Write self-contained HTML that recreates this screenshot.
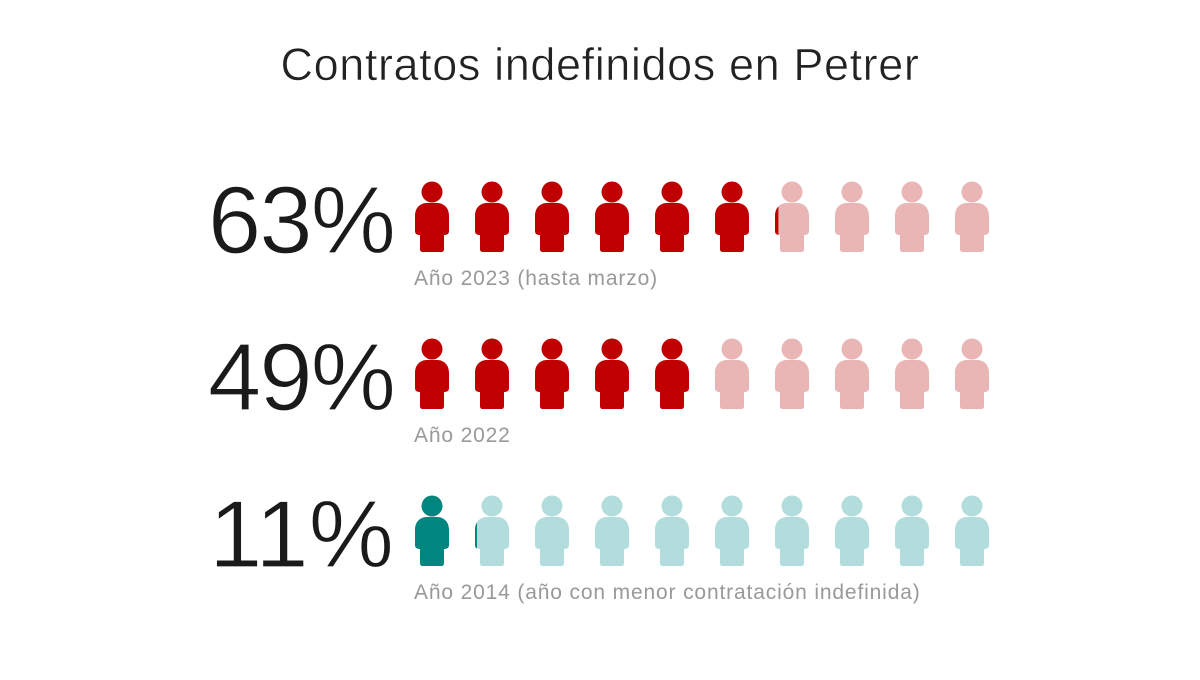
<!DOCTYPE html>
<html><head><meta charset="utf-8"><style>
body{margin:0;width:1200px;height:675px;background:#fff;overflow:hidden;font-family:"Liberation Sans",sans-serif}
</style></head><body>
<svg width="1200" height="675" viewBox="0 0 1200 675" xmlns="http://www.w3.org/2000/svg" font-family="Liberation Sans, sans-serif">
<defs>
<g id="p"><circle cx="17" cy="11" r="10.5"/><path d="M0,35 C0,26 6,22 12,22 L22,22 C28,22 34,26 34,35 L34,50 C34,53 32,54 29,54 L29,68 C29,70 28,71 26,71 L8,71 C6,71 5,70 5,68 L5,54 C2,54 0,53 0,50 Z"/></g>
<clipPath id="c3"><rect x="0" y="0" width="3.4" height="80"/></clipPath>
<clipPath id="c1"><rect x="0" y="0" width="2" height="80"/></clipPath>
</defs>
<text x="600" y="80" text-anchor="middle" font-size="45" fill="#222" letter-spacing="0.6" stroke="#fff" stroke-width="0.6">Contratos indefinidos en Petrer</text>
<g font-size="96" fill="#1a1a1a" text-anchor="end" stroke="#fff" stroke-width="1.2">
<text x="394" y="253" letter-spacing="-2">63%</text>
<text x="394" y="410" letter-spacing="-2">49%</text>
<text x="394" y="567" letter-spacing="0">11%</text>
</g>
<g font-size="21" fill="#999" letter-spacing="0.85">
<text x="414" y="285">Año 2023 (hasta marzo)</text>
<text x="414" y="442">Año 2022</text>
<text x="414" y="599">Año 2014 (año con menor contratación indefinida)</text>
</g>
<g fill="#c00000">
<use href="#p" x="415" y="181"/><use href="#p" x="475" y="181"/><use href="#p" x="535" y="181"/><use href="#p" x="595" y="181"/><use href="#p" x="655" y="181"/><use href="#p" x="715" y="181"/>
<use href="#p" x="415" y="338"/><use href="#p" x="475" y="338"/><use href="#p" x="535" y="338"/><use href="#p" x="595" y="338"/><use href="#p" x="655" y="338"/>
</g>
<g fill="#e9b5b5">
<use href="#p" x="775" y="181"/><use href="#p" x="835" y="181"/><use href="#p" x="895" y="181"/><use href="#p" x="955" y="181"/>
<use href="#p" x="715" y="338"/><use href="#p" x="775" y="338"/><use href="#p" x="835" y="338"/><use href="#p" x="895" y="338"/><use href="#p" x="955" y="338"/>
</g>
<g transform="translate(775,181)"><use href="#p" fill="#c00000" clip-path="url(#c3)"/></g>
<g fill="#b3dcdc">
<use href="#p" x="475" y="495"/><use href="#p" x="535" y="495"/><use href="#p" x="595" y="495"/><use href="#p" x="655" y="495"/><use href="#p" x="715" y="495"/><use href="#p" x="775" y="495"/><use href="#p" x="835" y="495"/><use href="#p" x="895" y="495"/><use href="#p" x="955" y="495"/>
</g>
<use href="#p" x="415" y="495" fill="#00857f"/>
<g transform="translate(475,495)"><use href="#p" fill="#00857f" clip-path="url(#c1)"/></g>
</svg>
</body></html>
